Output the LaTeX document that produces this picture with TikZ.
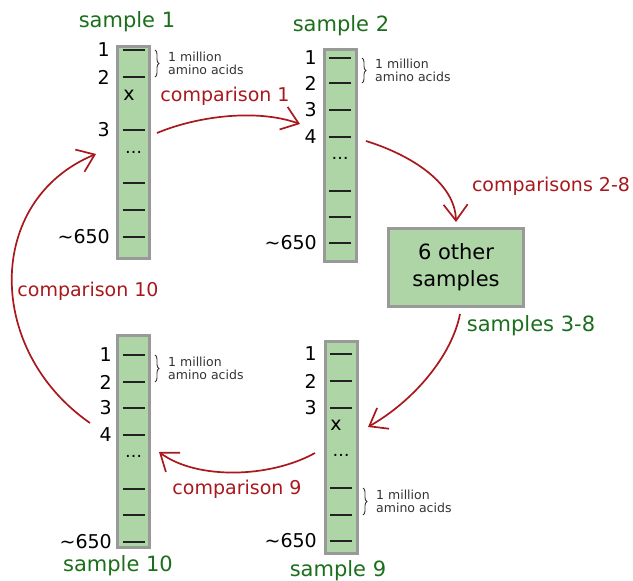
\documentclass[tikz,border=0pt]{standalone}
\usepackage{fontspec}
\setmainfont{DejaVu Sans}
\usetikzlibrary{arrows.meta,decorations.pathreplacing}
\definecolor{StripGreen}{HTML}{ADD5A6}
\definecolor{StripGray}{HTML}{999999}
\definecolor{SampleGreen}{HTML}{1B6E1B}
\definecolor{CompRed}{HTML}{A8181C}
\definecolor{TickDark}{HTML}{222222}
\definecolor{NoteGray}{HTML}{333333}
\tikzset{
  strip/.style={draw=StripGray,fill=StripGreen,line width=3pt,minimum width=32pt,minimum height=212pt,inner sep=0pt},
  samplelabel/.style={text=SampleGreen,font=\fontsize{21}{25}\selectfont,inner sep=0pt},
  complabel/.style={text=CompRed,font=\fontsize{19}{23}\selectfont,inner sep=0pt},
  numlabel/.style={anchor=east,font=\fontsize{19}{23}\selectfont,inner sep=0pt},
  marklabel/.style={font=\fontsize{19}{23}\selectfont,inner sep=0pt},
  dotslabel/.style={font=\fontsize{17}{19}\selectfont,inner sep=0pt},
  ticknote/.style={anchor=west,align=left,text=NoteGray,font=\fontsize{12.5}{13.3}\selectfont,inner sep=0pt},
  tickline/.style={draw=TickDark,line width=1.5pt},
  notebrace/.style={draw=NoteGray,line width=0.9pt,decorate,decoration={brace,amplitude=4pt}},
  comparrow/.style={-{Straight Barb[length=16pt,width=24pt]},line width=1.7pt,draw=CompRed}
}
\begin{document}
\begin{tikzpicture}[x=1pt,y=-1pt]
\useasboundingbox (0,0) rectangle (633,581);
% the four strips
\node[strip] (s1) at (133.5,152.5) {};
\node[strip] (s2) at (340,155.5) {};
\node[strip] (s10) at (133.5,441) {};
\node[strip] (s9) at (341,447) {};
\node[strip,minimum width=135pt,minimum height=78pt,align=center,font=\fontsize{21}{27}\selectfont] (others) at (456,267.5) {6 other\\samples};
% sample 1
\foreach \y/\lab in {50/1,77/2,130/3,183/,210/,237/{∼650}} {
  \draw[tickline] (122.5,\y) -- (144.5,\y);
  \node[numlabel] (s1n\y) at (110,\y) {\lab};
}
\node[marklabel] (s1x) at (129,95) {x};
\node[dotslabel] (s1dots) at (133.5,152) {\dots};
\draw[notebrace] (155,50) -- (155,77);
\node[ticknote] (s1note) at (168,63.5) {1 million\\amino acids};
% sample 2
\foreach \y/\lab in {58/1,83/2,110/3,137/4,191/,217/,243/{∼650}} {
  \draw[tickline] (329,\y) -- (351,\y);
  \node[numlabel] (s2n\y) at (317,\y) {\lab};
}
\node[dotslabel] (s2dots) at (340,158) {\dots};
\draw[notebrace] (362,58) -- (362,83);
\node[ticknote] (s2note) at (375,70.5) {1 million\\amino acids};
% sample 10
\foreach \y/\lab in {355/1,382/2,408/3,435/4,489/,515/,542/{∼650}} {
  \draw[tickline] (122.5,\y) -- (144.5,\y);
  \node[numlabel] (s10n\y) at (112,\y) {\lab};
}
\node[dotslabel] (s10dots) at (133.5,456) {\dots};
\draw[notebrace] (155,355) -- (155,382);
\node[ticknote] (s10note) at (168,368.5) {1 million\\amino acids};
% sample 9
\foreach \y/\lab in {354/1,381/2,408/3,488/,515/,541/{∼650}} {
  \draw[tickline] (330,\y) -- (352,\y);
  \node[numlabel] (s9n\y) at (317,\y) {\lab};
}
\node[marklabel] (s9x) at (336,425) {x};
\node[dotslabel] (s9dots) at (341,455) {\dots};
\draw[notebrace] (363,488) -- (363,515);
\node[ticknote] (s9note) at (376,501.5) {1 million\\amino acids};
% titles
\node[samplelabel] (t1) at (127,22) {sample 1};
\node[samplelabel] (t2) at (341,26) {sample 2};
\node[samplelabel] (t10) at (118,566) {sample 10};
\node[samplelabel] (t9) at (338,571) {sample 9};
\node[samplelabel] (t38) at (531,326) {samples 3-8};
% comparisons
\node[complabel] (c1) at (225,96) {comparison 1};
\node[complabel] (c28) at (551,186) {comparisons 2-8};
\node[complabel] (c9) at (237,489) {comparison 9};
\node[complabel] (c10) at (88,291) {comparison 10};
\coordinate (a1s) at (157,133);
\coordinate (a1e) at (300,124);
\coordinate (a2s) at (366,141);
\coordinate (a2e) at (456,222);
\coordinate (a3s) at (460,314);
\coordinate (a3e) at (368,427);
\coordinate (a9s) at (315,453);
\coordinate (a9e) at (159,452);
\coordinate (a10s) at (90,423);
\coordinate (a10e) at (96,154);
\draw[comparrow] (a1s) .. controls (195,117) and (255,108) .. (a1e);
\draw[comparrow] (a2s) .. controls (405,153) and (455,180) .. (a2e);
\draw[comparrow] (a3s) .. controls (452,355) and (415,400) .. (a3e);
\draw[comparrow] (a9s) .. controls (270,478) and (197,480) .. (a9e);
\draw[comparrow] (a10s) .. controls (-15,350) and (-15,200) .. (a10e);
\end{tikzpicture}
\end{document}
